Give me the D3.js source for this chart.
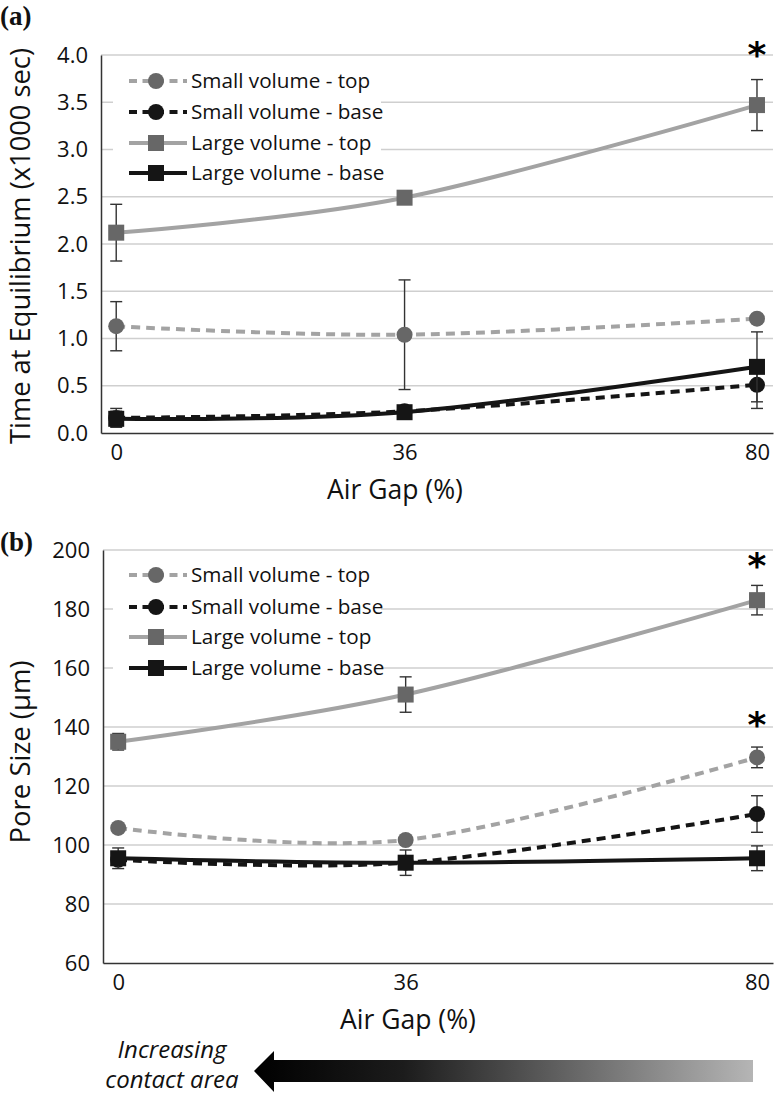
<!DOCTYPE html>
<html><head><meta charset="utf-8">
<script src="https://cdn.jsdelivr.net/npm/d3@7"></script>
<style>body{margin:0;background:#fff}svg{display:block}</style>
</head><body>
<svg id="c" width="776" height="1094"></svg>
<script>
const airGap = [0, 36, 80];
const seriesNames = ["Small volume - top", "Small volume - base", "Large volume - top", "Large volume - base"];
// Panel (a): Time at equilibrium (x1000 sec)
const aSmallTop = [1.13, 1.04, 1.21];
const aSmallTopErr = [0.26, 0.58, 0.0];
const aSmallBase = [0.16, 0.23, 0.51];
const aSmallBaseErr = [0.10, 0.04, 0.25];
const aLargeTop = [2.12, 2.49, 3.47];
const aLargeTopErr = [0.30, 0.06, 0.27];
const aLargeBase = [0.15, 0.22, 0.70];
const aLargeBaseErr = [0.08, 0.04, 0.37];
const aTicks = ["0.0","0.5","1.0","1.5","2.0","2.5","3.0","3.5","4.0"];
// Panel (b): Pore size (µm)
const bSmallTop = [105.8, 101.7, 129.7];
const bSmallTopErr = [0, 0, 3.5];
const bSmallBase = [95.0, 94.0, 110.5];
const bSmallBaseErr = [0, 0, 6.2];
const bLargeTop = [135.0, 151.0, 183.0];
const bLargeTopErr = [2.8, 6.0, 5.0];
const bLargeBase = [95.5, 94.0, 95.5];
const bLargeBaseErr = [3.5, 4.3, 4.2];
const bTicks = ["60","80","100","120","140","160","180","200"];

const svg = d3.select("#c");
const FONT = "'Open Sans', 'DejaVu Sans', sans-serif";
const GRAYL = "#a3a3a3", GRAYM = "#676767", BLK = "#151515";
const styles = [
  {line: GRAYL, mark: GRAYM, dash: "9,6", shape: "circle"},
  {line: BLK, mark: BLK, dash: "9,6", shape: "circle"},
  {line: GRAYL, mark: GRAYM, dash: null, shape: "square"},
  {line: BLK, mark: BLK, dash: null, shape: "square"}
];

function panel(cfg) {
  const g = svg.append("g");
  const x = d3.scaleLinear().domain([-1.9, 82]).range([cfg.left, cfg.right]);
  const y = d3.scaleLinear().domain(cfg.ydom).range([cfg.bottom, cfg.top]);
  const tickVals = cfg.ticks.map(Number);
  // gridlines
  g.append("g").selectAll("line").data(tickVals.slice(1)).join("line")
    .attr("x1", cfg.left).attr("x2", cfg.right)
    .attr("y1", d => y(d)).attr("y2", d => y(d))
    .attr("stroke", "#cfcfcf").attr("stroke-width", 1.5);
  // y axis
  const ya = g.append("g").attr("transform", `translate(${cfg.left},0)`)
    .call(d3.axisLeft(y).tickValues(tickVals).tickFormat((d,i) => cfg.ticks[i]).tickSize(0).tickPadding(13));
  ya.select(".domain").attr("stroke", "#333").attr("stroke-width", 1.5);
  ya.selectAll("text").attr("font-family", FONT).attr("font-size", 22).attr("fill", "#111");
  // x axis
  const xa = g.append("g").attr("transform", `translate(0,${cfg.bottom})`)
    .call(d3.axisBottom(x).tickValues(airGap).tickFormat(d3.format("d")).tickSize(0).tickPadding(11));
  xa.select(".domain").attr("stroke", "#333").attr("stroke-width", 1.5);
  xa.selectAll("text").attr("font-family", FONT).attr("font-size", 22).attr("fill", "#111");
  // axis titles
  g.append("text").attr("x", cfg.xtitleX).attr("y", cfg.bottom + 66)
    .attr("text-anchor", "middle").attr("font-family", FONT).attr("font-size", 26.5).attr("fill", "#111")
    .text("Air Gap (%)");
  g.append("text").attr("transform", `translate(30,${cfg.ytitleY}) rotate(-90)`)
    .attr("text-anchor", "middle").attr("font-family", FONT).attr("font-size", 27).attr("fill", "#111")
    .attr("textLength", cfg.ytitleLen).attr("lengthAdjust", "spacingAndGlyphs")
    .text(cfg.ytitle);
  // panel label
  g.append("text").attr("x", 0).attr("y", cfg.labelY).attr("font-family", "'Liberation Serif', serif")
    .attr("font-weight", "bold").attr("font-size", 27).attr("fill", "#111").text(cfg.label);

  const line = d3.line().x(d => x(d.x)).y(d => y(d.v)).curve(d3.curveCardinal.tension(0));
  cfg.series.forEach((s, i) => {
    const st = styles[i];
    const pts = airGap.map((a, j) => ({x: a, v: s.v[j], e: s.e[j]}));
    g.append("path").datum(pts).attr("d", line).attr("fill", "none")
      .attr("stroke", st.line).attr("stroke-width", 4)
      .attr("stroke-dasharray", st.dash);
    // error bars
    const eb = g.append("g").attr("stroke", "#333").attr("stroke-width", 1.4);
    pts.filter(p => p.e > 0).forEach(p => {
      eb.append("line").attr("x1", x(p.x)).attr("x2", x(p.x)).attr("y1", y(p.v - p.e)).attr("y2", y(p.v + p.e));
      [p.v - p.e, p.v + p.e].forEach(v => eb.append("line")
        .attr("x1", x(p.x) - 6).attr("x2", x(p.x) + 6).attr("y1", y(v)).attr("y2", y(v)));
    });
    // markers
    if (st.shape === "circle") {
      g.append("g").selectAll("circle").data(pts).join("circle")
        .attr("cx", d => x(d.x)).attr("cy", d => y(d.v)).attr("r", 8).attr("fill", st.mark);
    } else {
      g.append("g").selectAll("rect").data(pts).join("rect")
        .attr("x", d => x(d.x) - 8).attr("y", d => y(d.v) - 8).attr("width", 16).attr("height", 16).attr("fill", st.mark);
    }
  });
  // legend
  const lg = g.append("g");
  lg.append("rect").attr("x", 113).attr("y", cfg.legY[0] - 16).attr("width", 268)
    .attr("height", cfg.legY[3] - cfg.legY[0] + 32).attr("fill", "#fff");
  seriesNames.forEach((n, i) => {
    const st = styles[i], yy = cfg.legY[i];
    lg.append("line").attr("x1", 129).attr("x2", 187).attr("y1", yy).attr("y2", yy)
      .attr("stroke", st.line).attr("stroke-width", 4).attr("stroke-dasharray", st.dash ? "8,5.5" : null);
    if (st.shape === "circle") lg.append("circle").attr("cx", 156).attr("cy", yy).attr("r", 8).attr("fill", st.mark);
    else lg.append("rect").attr("x", 148).attr("y", yy - 8).attr("width", 16).attr("height", 16).attr("fill", st.mark);
    lg.append("text").attr("x", 191).attr("y", yy).attr("dy", "0.35em")
      .attr("font-family", FONT).attr("font-size", 20.7).attr("fill", "#111").text(n);
  });
  // significance asterisks
  cfg.stars.forEach(sy => g.append("text").attr("x", x(80)).attr("y", sy + 15)
    .attr("text-anchor", "middle").attr("font-family", "'DejaVu Sans', sans-serif")
    .attr("font-weight", "bold").attr("font-size", 36).attr("fill", "#000").text("*"));
}

panel({left: 101, right: 773, top: 55, bottom: 433, ydom: [0, 4], ticks: aTicks,
  ytitle: "Time at Equilibrium (x1000 sec)", ytitleY: 246, ytitleLen: 396, xtitleX: 395,
  label: "(a)", labelY: 25, legY: [81, 112, 143, 173], stars: [52],
  series: [{v: aSmallTop, e: aSmallTopErr}, {v: aSmallBase, e: aSmallBaseErr},
           {v: aLargeTop, e: aLargeTopErr}, {v: aLargeBase, e: aLargeBaseErr}]});

panel({left: 103, right: 773, top: 550, bottom: 963, ydom: [60, 200], ticks: bTicks,
  ytitle: "Pore Size (µm)", ytitleY: 752, ytitleLen: 183, xtitleX: 408,
  label: "(b)", labelY: 551, legY: [575, 607, 637, 668], stars: [563, 722],
  series: [{v: bSmallTop, e: bSmallTopErr}, {v: bSmallBase, e: bSmallBaseErr},
           {v: bLargeTop, e: bLargeTopErr}, {v: bLargeBase, e: bLargeBaseErr}]});

// bottom arrow: increasing contact area
const defs = svg.append("defs");
const grad = defs.append("linearGradient").attr("id", "ag").attr("x1", "0").attr("x2", "1");
grad.append("stop").attr("offset", "0").attr("stop-color", "#000");
grad.append("stop").attr("offset", "0.3").attr("stop-color", "#1c1c1c");
grad.append("stop").attr("offset", "1").attr("stop-color", "#b5b5b5");
const ay = 1071;
svg.append("path")
  .attr("d", `M254,${ay} L274,${ay-20} L274,${ay-11} L753,${ay-11} L753,${ay+11} L274,${ay+11} L274,${ay+21} Z`)
  .attr("fill", "url(#ag)");
svg.append("text").attr("x", 172).attr("y", 1058).attr("text-anchor", "middle")
  .attr("font-family", FONT).attr("font-style", "italic").attr("font-size", 24).attr("fill", "#111").text("Increasing");
svg.append("text").attr("x", 172).attr("y", 1088).attr("text-anchor", "middle")
  .attr("font-family", FONT).attr("font-style", "italic").attr("font-size", 24).attr("fill", "#111").text("contact area");
</script>
</body></html>
